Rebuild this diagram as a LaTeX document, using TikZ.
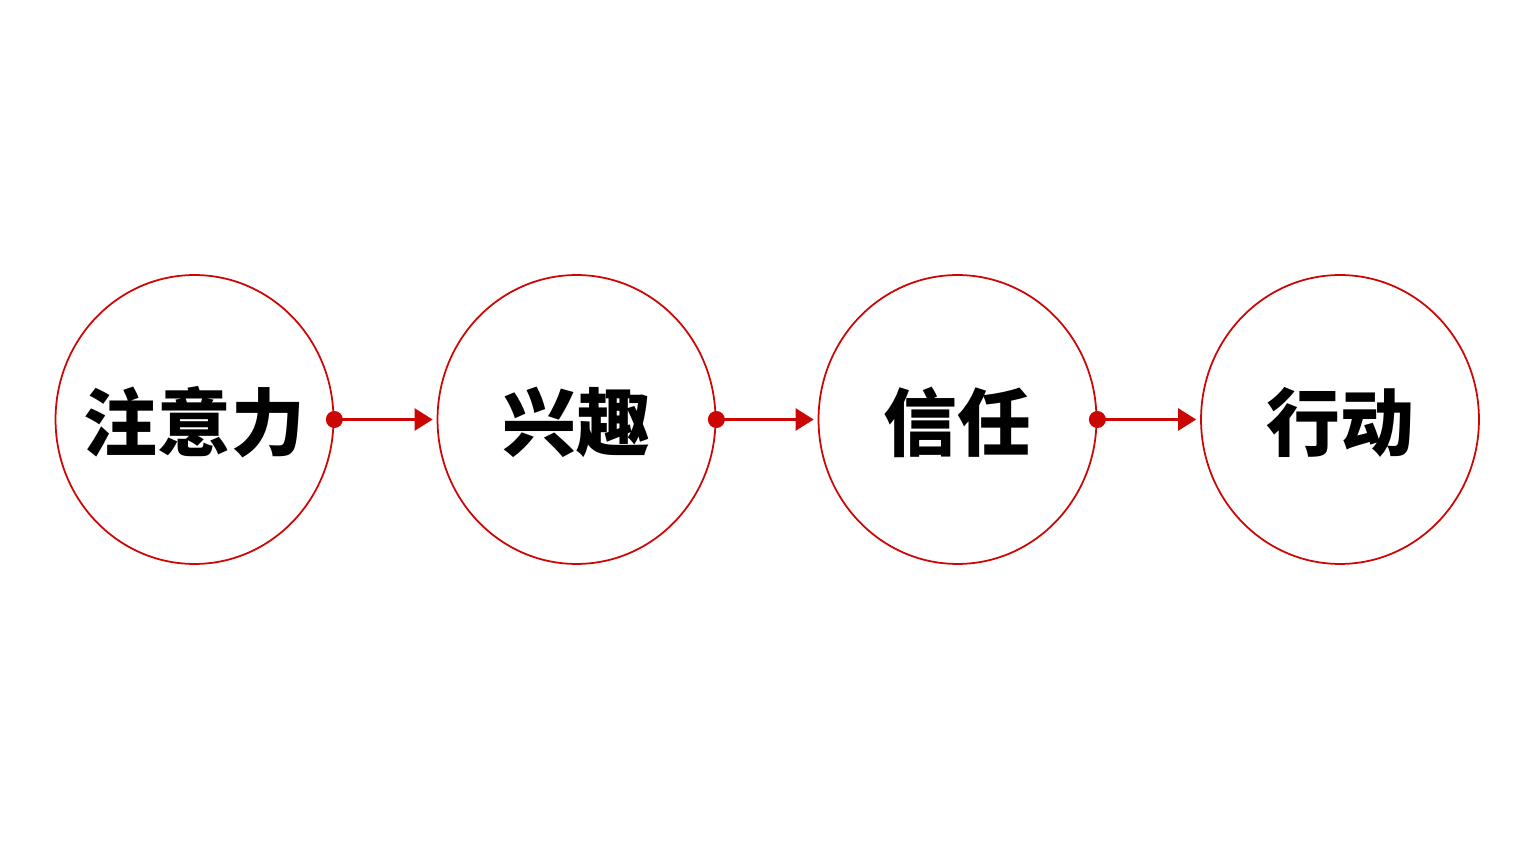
\documentclass[tikz,border=0pt]{standalone}
\usepackage{fontspec}
\usepackage{tikz}
\usetikzlibrary{arrows.meta,positioning,shapes.geometric}
\newfontfamily\cjk{Noto Sans CJK SC}
\definecolor{rouge}{rgb}{0.80,0.02,0.02}
\newcommand{\texteetape}[1]{\makebox[0pt]{\raisebox{-0.06cm}[\height][\depth]{#1}}}

\begin{document}
\begin{tikzpicture}[x=0.02cm,y=-0.02cm,
  etape/.style={ellipse,draw=rouge,line width=1pt,fill=white,minimum width=5.56cm,minimum height=5.78cm,inner sep=0pt,font=\cjk\bfseries\fontsize{42}{46}\selectfont},
  fleche/.style={draw=rouge,line width=1.4pt,-{Triangle[length=3.6mm,width=4.4mm]},shorten >=0.8mm}]
\useasboundingbox (0,0) rectangle (1536,864);
% les quatre etapes (texte de largeur nulle pour garder la taille du cercle)
\node (ATT) at (194.5,419.5) [etape] {\texteetape{注意力}};
\node (INT) at (576.5,419.5) [etape] {\texteetape{兴趣}};
\node (CON) at (957.5,419.5) [etape] {\texteetape{信任}};
\node (ACT) at (1340,419.5) [etape] {\texteetape{行动}};

% fleches entre les etapes
\draw[fleche] (ATT.east) -- (INT.west);
\draw[fleche] (INT.east) -- (CON.west);
\draw[fleche] (CON.east) -- (ACT.west);
% points de depart
\fill[rouge] (ATT.east) circle (0.17cm);
\fill[rouge] (INT.east) circle (0.17cm);
\fill[rouge] (CON.east) circle (0.17cm);
\end{tikzpicture}
\end{document}
